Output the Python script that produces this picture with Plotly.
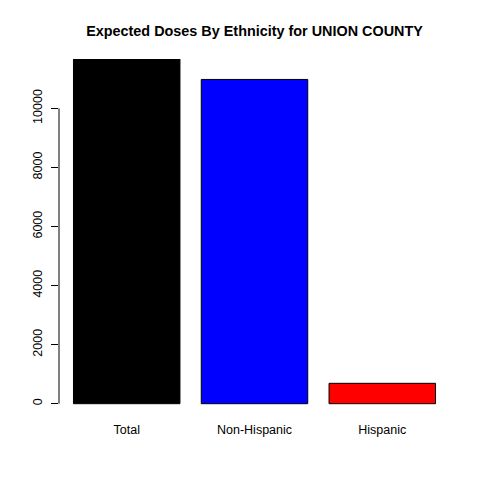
import plotly.graph_objects as go

categories = ["Total", "Non-Hispanic", "Hispanic"]
values = [11670, 10980, 690]
colors = ["#000000", "#0000FF", "#FF0000"]
positions = [0.7, 1.9, 3.1]
yticks = [0, 2000, 4000, 6000, 8000, 10000]

fig = go.Figure()
fig.add_trace(go.Bar(
    x=positions, y=values, width=1.0,
    marker=dict(color=colors, line=dict(color="black", width=1)),
    showlegend=False, hoverinfo="skip",
))

fig.update_layout(
    width=480, height=480,
    margin=dict(l=59, r=30, t=59, b=73.4),
    paper_bgcolor="white", plot_bgcolor="white",
    font=dict(family="Liberation Sans, Arial, sans-serif", size=12.5, color="black"),
    title=dict(text="<b>Expected Doses By Ethnicity for UNION COUNTY</b>",
               x=(59 + 450) / 2 / 480, xanchor="center", y=1 - 31 / 480, yanchor="middle",
               font=dict(size=14.4, color="black")),
    xaxis=dict(range=[0.064, 3.736], tickmode="array", tickvals=positions, ticktext=categories,
               showgrid=False, zeroline=False, showline=False, ticks="", ticklabelstandoff=13),
    yaxis=dict(range=[-112, 11672], tickmode="array", tickvals=yticks,
               ticktext=[str(v) for v in yticks], tickangle=-90,
               showgrid=False, zeroline=False, showline=False,
               ticks="outside", ticklen=7, tickwidth=1, tickcolor="black",
               ticklabelstandoff=4),
    shapes=[dict(type="line", xref="paper", yref="y", x0=0, x1=0, y0=0, y1=10000,
                 line=dict(color="black", width=1))],
)

fig.write_html("out.html")
